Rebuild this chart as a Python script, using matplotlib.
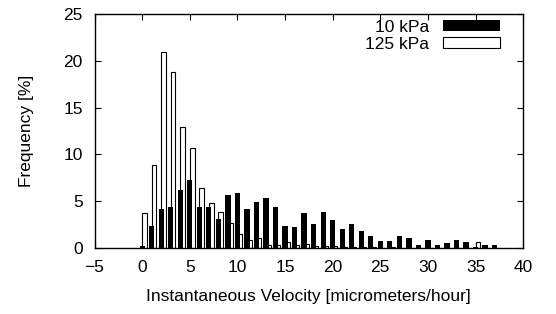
import matplotlib
matplotlib.use("Agg")
import matplotlib.pyplot as plt
import numpy as np

plt.rcParams['font.family'] = ['Liberation Sans', 'DejaVu Sans']
plt.rcParams['font.size'] = 12.5

# histogram bins (micrometers/hour), one per unit
velocity = np.arange(0, 38)

# frequency [%] for each bin
freq_10kpa = [0.2, 2.4, 4.2, 4.4, 6.2, 7.3, 4.4, 4.4, 3.1, 5.7,
              5.85, 4.2, 4.95, 5.3, 4.4, 2.4, 2.2, 3.7, 2.55, 3.85,
              2.95, 2.05, 2.55, 1.85, 1.27, 0.75, 0.75, 1.27, 1.1, 0.35,
              0.9, 0.35, 0.53, 0.9, 0.7, 0.1, 0.35, 0.35]
freq_125kpa = [3.8, 8.9, 21.0, 18.8, 12.9, 10.7, 6.4, 4.8, 3.9, 2.7,
               1.5, 0.9, 1.07, 0.36, 0.3, 0.64, 0.36, 0.43, 0.25, 0.18,
               0.25, 0.15, 0.1, 0.1, 0.1, 0.05, 0.1, 0.05, 0.0, 0.0,
               0.0, 0.0, 0.0, 0.0, 0.0, 0.7, 0.0, 0.0]

fig = plt.figure(figsize=(5.56, 3.14), dpi=100)
ax = fig.add_axes([0.170, 0.210, 0.771, 0.745])

# white bars sit just right of the black ones, partly behind them
ax.bar(velocity, freq_125kpa, width=0.5, align='edge', facecolor='white',
       edgecolor='black', linewidth=0.8, zorder=2, label='125 kPa')
ax.bar(velocity, freq_10kpa, width=0.55, color='black', zorder=3, label='10 kPa')

ax.set_xlim(-5, 40)
ax.set_ylim(0, 25)
ax.set_xticks(range(-5, 41, 5))
ax.set_yticks(range(0, 26, 5))
ax.tick_params(direction='in', length=4.3, width=0.8, top=True, right=True)
ax.tick_params(axis='x', pad=8.5)
ax.tick_params(axis='y', pad=8.5)
for s in ax.spines.values():
    s.set_linewidth(1.0)

ax.set_xlabel('Instantaneous Velocity [micrometers/hour]', labelpad=10)
ax.set_ylabel('Frequency [%]', labelpad=21)

h, l = ax.get_legend_handles_labels()
ax.legend(h[::-1], l[::-1], loc='upper right', bbox_to_anchor=(0.946, 0.975),
          frameon=False, markerfirst=False, borderpad=0, borderaxespad=0,
          handlelength=3.3, handleheight=0.6, handletextpad=0.8, labelspacing=0.1)

fig.savefig('out.png', dpi=100)
